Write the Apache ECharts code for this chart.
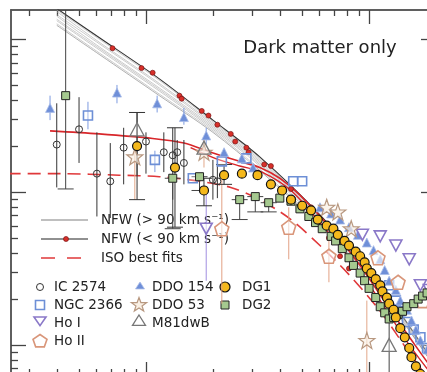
<!DOCTYPE html>
<html>
<head>
<meta charset="utf-8">
<script src="https://cdn.jsdelivr.net/npm/echarts/dist/echarts.min.js"></script>
<style>
  html, body { margin: 0; padding: 0; background: #fff; overflow: hidden; }
  #chart { width: 450px; height: 390px; }
</style>
</head>
<body>
<div id="chart"></div>
<script>
// values are log10(R) and log10(rho)

// axis extents (the frame runs a little past the visible window)
const rMin = -1.605, rMax = 0.300, rhoMin = -2.203, rhoMax = 0.190;

// NFW models, Vmax > 90 km/s (grey bundle), sampled at these radii
const nfwR = [-1.40, -1.21, -0.94, -0.70, -0.49, -0.22, 0.05, 0.32];
const nfwHigh = [
  [0.19, 0.00, -0.27, -0.54, -0.78, -1.16, -1.61, -2.18],
  [0.18, -0.02, -0.29, -0.55, -0.79, -1.16, -1.62, -2.18],
  [0.16, -0.03, -0.30, -0.56, -0.80, -1.17, -1.62, -2.19],
  [0.15, -0.05, -0.32, -0.57, -0.81, -1.18, -1.63, -2.19],
  [0.13, -0.06, -0.33, -0.58, -0.82, -1.19, -1.63, -2.19],
  [0.12, -0.07, -0.34, -0.59, -0.83, -1.20, -1.64, -2.20],
  [0.10, -0.09, -0.36, -0.60, -0.85, -1.21, -1.64, -2.20],
  [0.09, -0.10, -0.37, -0.61, -0.86, -1.22, -1.65, -2.20]
];
// NFW, Vmax < 90 km/s (black line with red points)
const nfwLow = [0.20, 0.01, -0.26, -0.53, -0.77, -1.15, -1.61, -2.18];
const nfwLowDots = [
  [-1.15, -0.06], [-1.02, -0.19], [-0.97, -0.22], [-0.85, -0.37], [-0.84, -0.39],
  [-0.75, -0.47], [-0.72, -0.50], [-0.68, -0.56], [-0.62, -0.62], [-0.60, -0.67],
  [-0.55, -0.71], [-0.54, -0.74], [-0.47, -0.82], [-0.44, -0.83], [-0.35, -0.98],
  [-0.26, -1.10], [-0.18, -1.30], [-0.13, -1.42], [-0.09, -1.50]
];

// ISO best fits
const isoFitA = [
  [-1.43, -0.60], [-1.21, -0.62], [-0.97, -0.65], [-0.83, -0.68], [-0.71, -0.74],
  [-0.58, -0.80], [-0.49, -0.84], [-0.40, -0.91], [-0.31, -1.02], [-0.17, -1.24],
  [-0.04, -1.48], [0.09, -1.76], [0.23, -2.05], [0.32, -2.23]
];
const isoFitB = [
  [-0.80, -0.71], [-0.69, -0.78], [-0.58, -0.83], [-0.48, -0.87], [-0.35, -0.99],
  [-0.22, -1.20], [-0.09, -1.43], [0.05, -1.71], [0.18, -2.00], [0.30, -2.23]
];
const isoFitDashed = [
  [-1.62, -0.88], [-1.39, -0.88], [-1.12, -0.89], [-0.94, -0.90], [-0.76, -0.93],
  [-0.62, -0.97], [-0.49, -1.05], [-0.35, -1.18], [-0.22, -1.35], [-0.09, -1.54],
  [0.05, -1.78], [0.18, -2.05], [0.27, -2.23]
];

// galaxies: [logR, logRho, errTop, errBottom]
const ic2574 = [
  [-1.40, -0.69, -0.42, -0.97], [-1.30, -0.59, -0.38, -0.81], [-1.22, -0.88, -0.61, -1.16],
  [-1.16, -0.93, -0.68, -1.17], [-1.10, -0.71, -0.58, -0.95], [-1.00, -0.67, -0.61, -0.88],
  [-0.92, -0.74, -0.61, -0.87], [-0.88, -0.76, -0.58, -1.05], [-0.86, -0.74, -0.66, -0.86],
  [-0.83, -0.81, -0.66, -0.95], [-0.70, -0.92, -0.79, -1.05], [-0.68, -0.93, -0.82, -1.04]
];
const ngc2366 = [
  [-1.26, -0.50, -0.41, -0.59], [-0.96, -0.79, -0.73, -0.87], [-0.79, -0.91], [-0.66, -0.80],
  [-0.55, -0.78], [-0.34, -0.93], [-0.30, -0.93], [0.09, -1.61], [0.12, -1.71], [0.14, -1.78],
  [0.17, -1.85], [0.20, -1.90], [0.23, -1.95], [0.26, -2.02]
];
const hoI = [
  [-0.73, -1.24, -1.01, -1.58], [-0.03, -1.28], [0.05, -1.29], [0.12, -1.35],
  [0.18, -1.44], [0.23, -1.61], [0.27, -1.64]
];
const hoII = [
  [-0.66, -1.24, -0.92, -1.73], [-0.36, -1.23, -1.10, -1.44], [-0.18, -1.42, -1.29, -1.59],
  [0.04, -1.43], [0.13, -1.59], [0.24, -1.71]
];
const ddo154 = [
  [-1.43, -0.45, -0.37, -0.53], [-1.13, -0.35, -0.30, -0.42], [-0.95, -0.42, -0.37, -0.48],
  [-0.83, -0.51, -0.45, -0.56], [-0.73, -0.63, -0.58, -0.69], [-0.65, -0.74], [-0.57, -0.78],
  [-0.52, -0.84], [-0.22, -1.10], [-0.17, -1.14], [-0.13, -1.18], [-0.09, -1.23], [-0.05, -1.28],
  [-0.01, -1.33], [0.02, -1.38], [0.05, -1.44], [0.07, -1.51], [0.09, -1.58], [0.12, -1.64],
  [0.14, -1.71], [0.17, -1.77], [0.19, -1.84], [0.21, -1.90], [0.23, -1.97], [0.26, -2.03], [0.28, -2.10]
];
const ddo53 = [
  [-1.05, -0.77, -0.68, -1.05], [-0.74, -0.74, -0.66, -0.84], [-0.19, -1.10], [-0.14, -1.13],
  [-0.08, -1.24], [-0.01, -1.97, -1.71, -2.25]
];
const m81dwb = [
  [-1.04, -0.59, -0.48, -0.89], [-0.74, -0.71], [0.09, -2.00, -1.82, -2.25]
];
const dg1 = [
  [-1.04, -0.70, -0.48, -1.05], [-0.87, -0.84, -0.58, -1.23], [-0.74, -0.99, -0.91, -1.09],
  [-0.65, -0.89, -0.82, -0.95], [-0.57, -0.88], [-0.50, -0.89], [-0.44, -0.95], [-0.39, -0.99],
  [-0.35, -1.05], [-0.30, -1.09], [-0.26, -1.12], [-0.23, -1.18], [-0.19, -1.22], [-0.16, -1.24],
  [-0.14, -1.28], [-0.11, -1.32], [-0.09, -1.35], [-0.06, -1.39], [-0.04, -1.42], [-0.02, -1.46],
  [-0.01, -1.50], [0.01, -1.53], [0.03, -1.57], [0.05, -1.61], [0.06, -1.65], [0.08, -1.69],
  [0.09, -1.73], [0.11, -1.77], [0.12, -1.82], [0.14, -1.89], [0.16, -1.95], [0.18, -2.02],
  [0.19, -2.08], [0.21, -2.14], [0.23, -2.19]
];
const dg2 = [
  [-1.36, -0.37, 0.19, -0.98], [-0.88, -0.91, -0.91, -1.24], [-0.76, -0.90, -0.90, -0.99],
  [-0.58, -1.05, -1.05, -1.18], [-0.51, -1.03, -1.03, -1.13], [-0.45, -1.07, -1.07, -1.13],
  [-0.40, -1.04], [-0.35, -1.06], [-0.31, -1.11], [-0.27, -1.16], [-0.24, -1.20], [-0.21, -1.24],
  [-0.17, -1.29], [-0.15, -1.32], [-0.12, -1.37], [-0.09, -1.43], [-0.07, -1.48], [-0.04, -1.53],
  [-0.02, -1.58], [0.00, -1.63], [0.03, -1.69], [0.05, -1.75], [0.07, -1.79], [0.09, -1.83],
  [0.11, -1.82], [0.13, -1.80], [0.15, -1.78], [0.17, -1.75], [0.20, -1.73], [0.22, -1.70],
  [0.24, -1.68], [0.26, -1.66], [0.28, -1.63]
];

// symbol outlines in a 10x10 box
const shapeDown = [[0, 0], [10, 0], [5, 8.66]];
const shapeUp = [[5, 0], [10, 8.66], [0, 8.66]];
const shapePenta = [[5, 0], [10, 3.63], [8.09, 9.51], [1.91, 9.51], [0, 3.63]];
const shapeStar = [[5, 0], [6.18, 3.38], [9.76, 3.45], [6.9, 5.62], [7.94, 9.05], [5, 7], [2.06, 9.05], [3.1, 5.62], [0.24, 3.45], [3.82, 3.38]];
const symPath = pts => 'path://M' + pts.map(p => p.join(',')).join('L') + 'Z';

// log ticks
const rMajor = [-1, 0], rhoMajor = [-2, -1, 0];
const rMinor = [], rhoMinor = [];
[-2, -1, 0].forEach(d => { for (let k = 2; k < 10; k++) { const v = d + Math.log10(k); if (v > rMin && v < rMax) rMinor.push(v); } });
[-3, -2, -1, 0].forEach(d => { for (let k = 2; k < 10; k++) { const v = d + Math.log10(k); if (v > rhoMin && v < rhoMax) rhoMinor.push(v); } });

const frame = { color: '#555', width: 1.5 };
function axis(kind, pos, ticks, len) {
  return {
    type: 'value', position: pos,
    min: kind === 'x' ? rMin : rhoMin, max: kind === 'x' ? rMax : rhoMax,
    axisLine: { show: true, onZero: false, lineStyle: frame },
    axisTick: { show: true, inside: true, length: len, customValues: ticks, lineStyle: { color: '#444', width: 1.3 } },
    axisLabel: { show: false },
    splitLine: { show: false }
  };
}

function lineSeries(data, color, width, type, z) {
  return {
    type: 'line', data, symbol: 'none', smooth: 0.3, z: z || 2, silent: true,
    lineStyle: { color, width, type: type || 'solid' }
  };
}

function errorBars(data, color, cap) {
  return {
    type: 'custom', data, clip: true, silent: true, z: 3,
    dimensions: ['r', 'rho', 'top', 'bottom'],
    encode: { x: 0, y: 1 },
    renderItem(params, api) {
      const x = api.value(0), t = api.value(2), b = api.value(3);
      if (isNaN(t) || isNaN(b) || t === b) return null;
      const p = api.coord([x, t]), q = api.coord([x, b]);
      const st = { stroke: color, lineWidth: 1 };
      const kids = [{ type: 'line', shape: { x1: p[0], y1: p[1], x2: q[0], y2: q[1] }, style: st }];
      if (cap) {
        kids.push({ type: 'line', shape: { x1: p[0] - 8, y1: p[1], x2: p[0] + 8, y2: p[1] }, style: st });
        kids.push({ type: 'line', shape: { x1: q[0] - 8, y1: q[1], x2: q[0] + 8, y2: q[1] }, style: st });
      }
      return { type: 'group', children: kids };
    }
  };
}

function points(name, data, symbol, size, fill, stroke, bw) {
  return {
    type: 'scatter', name, data, symbol, symbolSize: size, z: 4, silent: true,
    itemStyle: { color: fill, borderColor: stroke, borderWidth: bw, opacity: 1 }
  };
}

const series = [];
nfwHigh.forEach((ys, i) => series.push(lineSeries(nfwR.map((r, j) => [r, ys[j]]),
  i === nfwHigh.length - 1 ? '#8c8c8c' : '#b4b4b4', 0.7)));
series.push(lineSeries(nfwR.map((r, i) => [r, nfwLow[i]]), '#333', 1.1));
series.push(lineSeries(isoFitA, '#d8262a', 1.6));
series.push(lineSeries(isoFitB, '#d8262a', 1.4));
series.push(lineSeries(isoFitDashed, '#e0383a', 1.6, [13, 7]));
series.push(points('nfwDots', nfwLowDots, 'circle', 5, '#d8302a', '#7a1515', 0.7));

series.push(errorBars(ic2574, '#333', false));
series.push(errorBars(ngc2366, '#7d9be0', false));
series.push(errorBars(ddo154, '#7d9be0', false));
series.push(errorBars(hoI, '#a08ee0', false));
series.push(errorBars(hoII, '#e2a184', false));
series.push(errorBars(ddo53, '#e2a88a', false));
series.push(errorBars(m81dwb, '#444', false));
series.push(errorBars(dg2, '#444', true));
series.push(errorBars(dg1, '#333', true));

series.push(points('IC 2574', ic2574, 'circle', 7, 'rgba(255,255,255,0)', '#333', 1));
series.push(points('NGC 2366', ngc2366, 'rect', 9, 'rgba(255,255,255,0.3)', '#6d8fd6', 1.6));
series.push(points('DDO 154', ddo154, 'triangle', 9, '#6f8fd8', '#a9bde8', 0.8));
series.push(points('Ho I', hoI, symPath(shapeDown), [12, 11], 'rgba(255,255,255,0.6)', '#8a78c8', 1.6));
series.push(points('Ho II', hoII, symPath(shapePenta), 14, 'rgba(255,255,255,0.6)', '#d9967a', 1.6));
series.push(points('DDO 53', ddo53, symPath(shapeStar), 16, 'rgba(250,240,228,0.7)', '#b89880', 1.2));
series.push(points('M81dwB', m81dwb, symPath(shapeUp), [14, 13], 'rgba(255,255,255,0.3)', '#777', 1.3));
series.push(points('DG2', dg2, 'rect', 8, '#a5c98f', '#222', 1));
series.push(points('DG1', dg1, 'circle', 9, '#f4b81c', '#111', 1.2));

// legend drawn as graphics, placed like the original
const font = '13.5px "DejaVu Sans"';
function label(text, x, y) {
  return { type: 'text', x, y, silent: true, style: { text, font, fill: '#222', align: 'left', verticalAlign: 'middle', textAlign: 'left', textVerticalAlign: 'middle' } };
}
function icon(shape, cx, cy, w, h, fill, stroke, lw) {
  const pts = shape.map(p => [cx - w / 2 + p[0] * w / 10, cy - h / 2 + p[1] * h / 10]);
  return { type: 'polygon', silent: true, shape: { points: pts }, style: { fill, stroke, lineWidth: lw } };
}
const graphic = [
  { type: 'line', shape: { x1: 41, y1: 220, x2: 88, y2: 220 }, style: { stroke: '#aaa', lineWidth: 1.5 } },
  label('NFW (> 90 km s\u207B\u00B9)', 101, 220),
  { type: 'line', shape: { x1: 41, y1: 239, x2: 88, y2: 239 }, style: { stroke: '#222', lineWidth: 1.2 } },
  { type: 'circle', shape: { cx: 66, cy: 239, r: 2.5 }, style: { fill: '#d8302a', stroke: '#7a1515', lineWidth: 0.7 } },
  label('NFW (< 90 km s\u207B\u00B9)', 101, 239),
  { type: 'line', shape: { x1: 41, y1: 258, x2: 81, y2: 258 }, style: { stroke: '#e0383a', lineWidth: 1.6, lineDash: [14, 12] } },
  label('ISO best fits', 101, 258),

  { type: 'circle', shape: { cx: 40, cy: 287, r: 3.5 }, style: { fill: 'none', stroke: '#333', lineWidth: 1 } },
  label('IC 2574', 54, 287),
  { type: 'rect', shape: { x: 35.5, y: 300.5, width: 9, height: 9 }, style: { fill: 'none', stroke: '#6d8fd6', lineWidth: 1.6 } },
  label('NGC 2366', 54, 305),
  icon(shapeDown, 40, 322, 12, 10, '#fff', '#8a78c8', 1.6),
  label('Ho I', 54, 323),
  icon(shapePenta, 40, 341, 14, 13, '#fff', '#d9967a', 1.6),
  label('Ho II', 54, 341),

  icon(shapeUp, 140, 286, 9, 8, '#6f8fd8', '#a9bde8', 0.8),
  label('DDO 154', 152, 287),
  icon(shapeStar, 139, 305, 16, 15, '#faf0e4', '#b89880', 1.2),
  label('DDO 53', 152, 305),
  icon(shapeUp, 139, 321, 13, 12, '#fff', '#777', 1.3),
  label('M81dwB', 152, 323),

  { type: 'circle', shape: { cx: 225, cy: 287, r: 5 }, style: { fill: '#f4b81c', stroke: '#111', lineWidth: 1.2 } },
  label('DG1', 242, 287),
  { type: 'rect', shape: { x: 221, y: 301, width: 8, height: 8 }, style: { fill: '#a5c98f', stroke: '#222', lineWidth: 1 } },
  label('DG2', 242, 305),

  { type: 'text', x: 320, y: 48, silent: true, style: { text: 'Dark matter only', font: '18px "DejaVu Sans"', fill: '#222', align: 'center', verticalAlign: 'middle', textAlign: 'center', textVerticalAlign: 'middle' } }
];

const chart = echarts.init(document.getElementById('chart'), null, { renderer: 'canvas' });
chart.setOption({
  animation: false,
  backgroundColor: '#fff',
  grid: { left: 11, top: 10, width: 425, height: 366, containLabel: false, outerBoundsMode: 'none' },
  xAxis: [
    axis('x', 'top', rMajor, 14), axis('x', 'top', rMinor, 6),
    axis('x', 'bottom', rMajor, 14), axis('x', 'bottom', rMinor, 7)
  ],
  yAxis: [
    axis('y', 'left', rhoMajor, 15), axis('y', 'left', rhoMinor, 7),
    axis('y', 'right', rhoMajor, 15), axis('y', 'right', rhoMinor, 7)
  ],
  series,
  graphic
});
</script>
</body>
</html>
